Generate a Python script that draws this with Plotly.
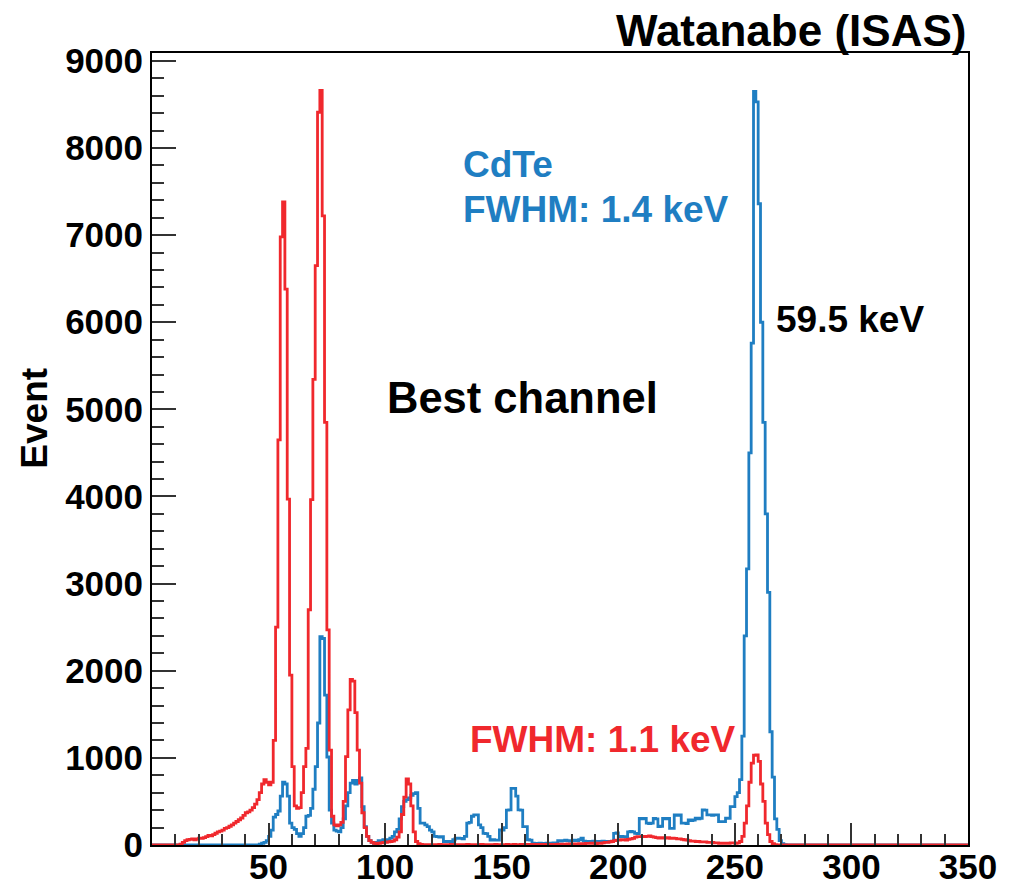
import plotly.graph_objects as go

# ---------------- data (counts per 1-channel bin, channels 0..349) ----------------
red_counts = (
    [0, 0, 0, 0, 0, 0, 0, 0, 0, 0] +
    [0, 0, 10, 30, 50, 60, 65, 70, 60, 70] +
    [80, 75, 85, 95, 110, 105, 120, 135, 150, 160] +
    [170, 190, 200, 215, 230, 250, 270, 290, 310, 340] +
    [370, 380, 400, 430, 470, 520, 600, 700, 750, 720] +
    [690, 720, 1200, 2500, 4650, 6980, 7380, 6380, 3970, 1950] +
    [900, 450, 420, 430, 600, 900, 1110, 2700, 3965, 5345] +
    [6650, 8410, 8660, 7220, 4850, 2470, 1090, 330, 230, 220] +
    [230, 260, 500, 1015, 1550, 1900, 1880, 1520, 1090, 710] +
    [370, 200, 100, 50, 30, 20, 15, 20, 25, 30] +
    [30, 35, 40, 45, 60, 90, 150, 350, 550, 760] +
    [700, 450, 150, 40, 15, 8, 5, 5, 5, 5] +
    [5, 4, 5, 6, 5, 4, 5, 5, 6, 5] +
    [4, 5, 5, 4, 5, 6, 5, 4, 5, 5] +
    [5, 6, 5, 5, 4, 5, 5, 6, 5, 5] +
    [5, 5, 6, 5, 5, 6, 5, 5, 6, 6] +
    [6, 5, 6, 7, 6, 6, 7, 6, 7, 7] +
    [8, 7, 8, 8, 9, 8, 10, 10, 12, 12] +
    [12, 14, 14, 15, 16, 16, 18, 18, 20, 20] +
    [15, 20, 20, 25, 30, 30, 35, 40, 50, 55] +
    [55, 60, 60, 55, 65, 70, 75, 90, 95, 95] +
    [100, 95, 100, 105, 95, 90, 85, 80, 85, 80] +
    [80, 85, 75, 80, 75, 70, 70, 65, 60, 55] +
    [50, 45, 45, 40, 40, 35, 35, 35, 30, 30] +
    [30, 25, 25, 20, 20, 20, 20, 20, 25, 25] +
    [20, 25, 40, 100, 250, 450, 720, 940, 1030, 1035] +
    [960, 700, 500, 250, 120, 40, 15, 5, 0, 0] +
    [0] * 80
)

blue_counts = (
    [0] * 46 +
    [10, 20, 30, 50] +
    [100, 170, 320, 350, 390, 560, 720, 700, 560, 250] +
    [200, 180, 130, 100, 130, 200, 330, 340, 420, 640] +
    [900, 1400, 2390, 2370, 1720, 1010, 400, 250, 170, 160] +
    [150, 200, 300, 450, 600, 710, 740, 700, 740, 770] +
    [440, 210, 100, 50, 30, 20, 30, 50, 40, 60] +
    [50, 60, 80, 100, 150, 180, 300, 440, 500, 520] +
    [540, 570, 590, 600, 420, 250, 250, 230, 210, 170] +
    [150, 100, 96, 90, 96, 40, 38, 40, 35, 60] +
    [77, 80, 77, 70, 100, 250, 260, 330, 345, 345] +
    [230, 200, 134, 130, 100, 57, 60, 55, 57, 172] +
    [172, 200, 400, 402, 651, 651, 560, 402, 400, 210] +
    [210, 60, 57, 20, 18, 15, 20, 18, 15, 20] +
    [18, 20, 25, 20, 50, 45, 50, 55, 50, 45] +
    [50, 55, 50, 60, 80, 45, 40, 35, 40, 45] +
    [40, 35, 40, 45, 40, 35, 40, 45, 134, 140] +
    [96, 100, 96, 90, 150, 155, 150, 134, 130, 306] +
    [300, 306, 250, 245, 250, 306, 300, 211, 215, 306] +
    [300, 306, 190, 190, 345, 340, 345, 250, 250, 245] +
    [287, 280, 287, 307, 300, 307, 402, 400, 345, 345] +
    [340, 345, 345, 268, 268, 268, 307, 307, 441, 441] +
    [556, 600, 750, 1250, 2400, 3170, 4500, 5760, 8650, 8530] +
    [7360, 6000, 4850, 3800, 2900, 1300, 780, 300, 180, 50] +
    [15, 5, 0, 0, 0, 0, 0, 0, 0, 0] +
    [0] * 70
)

bin_edges = list(range(0, 351))
x_ticks = [50, 100, 150, 200, 250, 300, 350]
y_ticks = [0, 1000, 2000, 3000, 4000, 5000, 6000, 7000, 8000, 9000]

RED = "#f0282d"
BLUE = "#1f7ec2"
FONT = "Liberation Sans, Arial, Helvetica, sans-serif"

fig = go.Figure()
fig.add_trace(go.Scatter(
    x=bin_edges, y=blue_counts + [blue_counts[-1]],
    mode="lines", line=dict(color=BLUE, width=2.8, shape="hv"),
    hoverinfo="skip", name="CdTe"))
fig.add_trace(go.Scatter(
    x=bin_edges, y=red_counts + [red_counts[-1]],
    mode="lines", line=dict(color=RED, width=2.8, shape="hv"),
    hoverinfo="skip", name="Si"))

tickfont = dict(family=FONT, size=35, color="black", weight="bold")

fig.update_layout(
    width=1010, height=887,
    margin=dict(l=152, r=42, t=53, b=42),
    paper_bgcolor="white", plot_bgcolor="white",
    showlegend=False,
    xaxis=dict(
        range=[0, 350], tickmode="array", tickvals=x_ticks,
        ticks="inside", ticklen=22, tickwidth=2, tickcolor="#333333",
        minor=dict(tick0=0, dtick=10, ticks="inside", ticklen=11,
                   tickwidth=2, tickcolor="#333333"),
        showline=True, mirror=True, linecolor="black", linewidth=2,
        showgrid=False, zeroline=False, tickfont=tickfont, automargin=False,
        ticklabelstandoff=-10,
    ),
    yaxis=dict(
        range=[0, 9090], tickmode="array", tickvals=y_ticks,
        ticks="inside", ticklen=24, tickwidth=2, tickcolor="#333333",
        minor=dict(tick0=0, dtick=200, ticks="inside", ticklen=12,
                   tickwidth=2, tickcolor="#333333"),
        showline=True, mirror=True, linecolor="black", linewidth=2,
        showgrid=False, zeroline=False, tickfont=tickfont, automargin=False,
    ),
)

def txt(text, x, y, color, size, xanchor="left", xref="x", yref="y", angle=0):
    fig.add_annotation(
        text=text, x=x, y=y, xref=xref, yref=yref,
        xanchor=xanchor, yanchor="middle", showarrow=False,
        textangle=angle,
        font=dict(family=FONT, size=size, color=color, weight="bold"))

txt("Watanabe (ISAS)", 1.0, 1.029, "black", 44, xanchor="right", xref="paper", yref="paper")
txt("Event", -0.145, (845 - 418) / 792, "black", 37, xanchor="center", xref="paper", yref="paper", angle=-90)
txt("CdTe", 132.6, 7816, BLUE, 37)
txt("FWHM: 1.4 keV", 132.6, 7299, BLUE, 37)
txt("Best channel", 100.0, 5126, "black", 43.5)
txt("59.5 keV", 266.8, 6034, "black", 37)
txt("FWHM: 1.1 keV", 135.6, 1207, RED, 37)

fig.write_html("out.html")
